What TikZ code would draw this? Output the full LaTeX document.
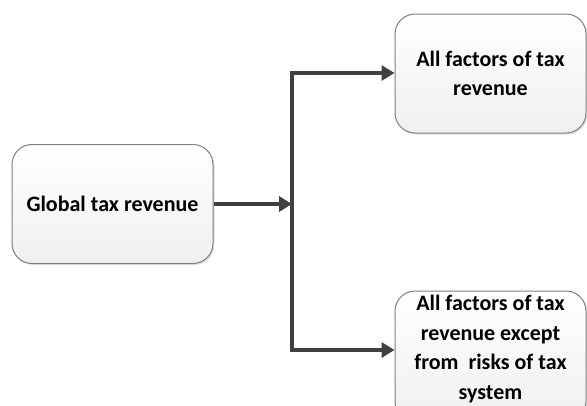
\documentclass[tikz,border=0pt]{standalone}
\usepackage{fontspec}
\setmainfont{Carlito}
\usetikzlibrary{arrows.meta,shadows}
\definecolor{boxborder}{HTML}{7F7F7F}
\definecolor{arrowcol}{HTML}{404040}
\tikzset{boxfont/.style={font=\bfseries\fontsize{22}{29.5}\selectfont}}
\begin{document}
\begin{tikzpicture}[x=1pt,y=-1pt,
  boxstyle/.style={draw=boxborder, line width=1pt, rounded corners=20pt,
    top color=white, bottom color=black!6, align=center,
    boxfont, inner sep=0pt,
    drop shadow={shadow xshift=1.5pt, shadow yshift=-1.5pt, opacity=0.25, fill=black!50}},
  conn/.style={draw=arrowcol, line width=3.5pt, -{Triangle[length=13pt,width=15pt]}}]
\useasboundingbox (0,0) rectangle (587,405);
\clip (0,0) rectangle (587,405);
\node[boxstyle, minimum width=201pt, minimum height=119pt] (global) at (112.5,204) {Global tax revenue};
\node[boxstyle, minimum width=191pt, minimum height=119pt] (all) at (490.5,73.5) {All factors of tax\\revenue};
\node[boxstyle, minimum width=191pt, minimum height=130pt, text depth=0pt] (except) at (490.5,356) {};
\node[align=center, boxfont, inner sep=0pt, anchor=north] (excepttext) at (490.5,295) {All factors of tax\\revenue except\\from\ \ risks of tax\\system};
\coordinate (split) at (292,204);
\coordinate (topj) at (292,73);
\coordinate (botj) at (292,350);
\draw[conn] (global.east |- split) -- (split);
\draw[draw=arrowcol, line width=3.5pt] (topj) -- (botj);
\draw[conn] ([xshift=-1.75pt]topj) -- (all.west |- topj);
\draw[conn] ([xshift=-1.75pt]botj) -- (except.west |- botj);
\end{tikzpicture}
\end{document}
